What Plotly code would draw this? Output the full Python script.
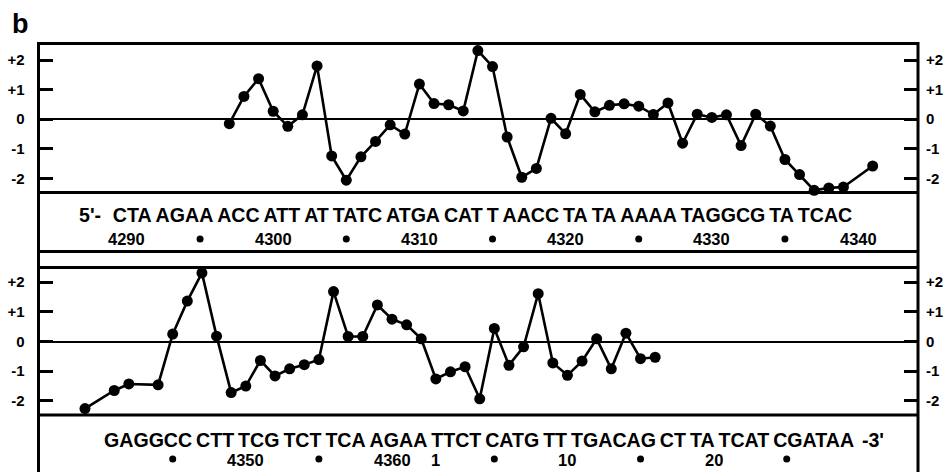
import plotly.graph_objects as go

# ---------------- data ----------------
top_pos = [4297, 4298, 4299, 4300, 4301, 4302, 4303, 4304, 4305, 4306,
           4307, 4308, 4309, 4310, 4311, 4312, 4313, 4314, 4315, 4316,
           4317, 4318, 4319, 4320, 4321, 4322, 4323, 4324, 4325, 4326,
           4327, 4328, 4329, 4330, 4331, 4332, 4333, 4334, 4335, 4336,
           4337, 4338, 4339, 4341]
top_val = [-0.15, 0.77, 1.37, 0.27, -0.24, 0.15, 1.80, -1.24, -2.06, -1.27,
           -0.75, -0.19, -0.50, 1.19, 0.53, 0.49, 0.28, 2.32, 1.78, -0.60,
           -1.96, -1.66, 0.03, -0.49, 0.84, 0.25, 0.47, 0.52, 0.44, 0.16,
           0.55, -0.81, 0.17, 0.06, 0.15, -0.89, 0.17, -0.23, -1.36, -1.87,
           -2.40, -2.32, -2.29, -1.58]

bot_pos = [4339, 4341, 4342, 4344, 4345, 4346, 4347, 4348, 4349, 4350,
           4351, 4352, 4353, 4354, 4355, 4356, 4357, 4358, 4359, 4360,
           4361, 4362, 4363, 4364, 4365, 4366, 4367, 4368, 4369, 4370,
           4371, 4372, 4373, 4374, 4375, 4376, 4377, 4378]
bot_val = [-2.26, -1.65, -1.43, -1.46, 0.25, 1.36, 2.31, 0.18, -1.72, -1.50,
           -0.64, -1.16, -0.92, -0.78, -0.61, 1.68, 0.17, 0.17, 1.23, 0.75,
           0.56, 0.09, -1.26, -1.02, -0.85, -1.93, 0.44, -0.80, -0.18, 1.61,
           -0.72, -1.14, -0.66, 0.09, -0.92, 0.28, -0.58, -0.53]

y_tickvals = [2, 1, 0, -1, -2]
y_ticktext = ["+2", "+1", "0", "-1", "-2"]

top_seq_groups = ["CTA", "AGAA", "ACC", "ATT", "AT", "TATC", "ATGA", "CAT", "T",
                  "AACC", "TA", "TA", "AAAA", "TAGGCG", "TA", "TCAC"]
bot_seq_groups = ["GAGGCC", "CTT", "TCG", "TCT", "TCA", "AGAA", "TTCT", "CATG",
                  "TT", "TGACAG", "CT", "TA", "TCAT", "CGATAA"]

top_num_pos = [4290, 4300, 4310, 4320, 4330, 4340]
top_num_text = ["4290", "4300", "4310", "4320", "4330", "4340"]
top_dot_pos = [4295, 4305, 4315, 4325, 4335]

bot_num_pos = [4350, 4360, 4363, 4372, 4382]
bot_num_text = ["4350", "4360", "1", "10", "20"]
bot_dot_pos = [4345, 4355, 4367, 4377, 4387]

# ---------------- layout helpers ----------------
W, H = 948, 472
def px(x):
    return x / W
def py(y):
    return 1 - y / H

FONT = "Liberation Sans, Arial, Helvetica, sans-serif"
XL, XR = 38.5, 918.0
THIN = "\u2009"

fig = go.Figure()

line_style = dict(color="black", width=2.6)
marker_style = dict(color="black", size=11)

fig.add_trace(go.Scatter(x=top_pos, y=top_val, xaxis="x", yaxis="y",
                         mode="lines+markers", line=line_style, marker=marker_style,
                         cliponaxis=False, showlegend=False))
fig.add_trace(go.Scatter(x=bot_pos, y=bot_val, xaxis="x2", yaxis="y2",
                         mode="lines+markers", line=line_style, marker=marker_style,
                         cliponaxis=False, showlegend=False))
# helper traces so the right-hand axes are drawn
fig.add_trace(go.Scatter(x=[None], y=[None], xaxis="x", yaxis="y3", showlegend=False))
fig.add_trace(go.Scatter(x=[None], y=[None], xaxis="x2", yaxis="y4", showlegend=False))

xdom = [px(XL), px(XR)]
top_dom = [py(192.5), py(43.5)]
bot_dom = [py(415), py(267.5)]
top_range = [-2.475, 2.559]
bot_range = [-2.475, 2.492]

hidden_x = dict(showticklabels=False, showgrid=False, zeroline=False,
                showline=False, ticks="", domain=xdom)

tickfont = dict(family=FONT, size=15, color="black", weight="bold")
left_y = dict(tickvals=y_tickvals, ticktext=y_ticktext, ticks="inside",
              ticklen=14, tickwidth=3, tickcolor="black", showgrid=False,
              zeroline=True, zerolinecolor="black", zerolinewidth=2.2,
              showline=False, tickfont=tickfont, ticklabelstandoff=13)
right_y = dict(tickvals=y_tickvals, ticktext=y_ticktext, ticks="inside",
               ticklen=14, tickwidth=3, tickcolor="black", showgrid=False,
               zeroline=False, showline=False, side="right",
               tickfont=tickfont, ticklabelstandoff=7)

fig.update_layout(
    width=W, height=H, autosize=False,
    margin=dict(l=0, r=0, t=0, b=0),
    paper_bgcolor="white", plot_bgcolor="white",
    xaxis=dict(range=[4283.95, 4344.1], anchor="y", **hidden_x),
    xaxis2=dict(range=[4335.82, 4395.98], anchor="y2", **hidden_x),
    yaxis=dict(domain=top_dom, range=top_range, anchor="x", **left_y),
    yaxis2=dict(domain=bot_dom, range=bot_range, anchor="x2", **left_y),
    yaxis3=dict(domain=top_dom, range=top_range, anchor="x", overlaying="y", **right_y),
    yaxis4=dict(domain=bot_dom, range=bot_range, anchor="x2", overlaying="y2", **right_y),
)

# ---------------- frame ----------------
shapes = []
frame_path = "M {l},{b} L {l},{t} L {r},{t} L {r},{b}".format(
    l=px(XL), r=px(XR), t=py(43.5), b=py(472))
shapes.append(dict(type="path", xref="paper", yref="paper", path=frame_path,
                   line=dict(color="black", width=3)))
for yy in [192.5, 251.5, 267.5, 415]:
    shapes.append(dict(type="line", xref="paper", yref="paper",
                       x0=px(XL), x1=px(XR), y0=py(yy), y1=py(yy),
                       line=dict(color="black", width=3)))

# numbering dots
for p in top_dot_pos:
    shapes.append(dict(type="circle", xref="x", yref="paper",
                       xsizemode="pixel", ysizemode="pixel",
                       xanchor=p, yanchor=py(239),
                       x0=-3.5, x1=3.5, y0=-3.5, y1=3.5,
                       fillcolor="black", line=dict(width=0)))
for p in bot_dot_pos:
    shapes.append(dict(type="circle", xref="x2", yref="paper",
                       xsizemode="pixel", ysizemode="pixel",
                       xanchor=p, yanchor=py(459),
                       x0=-3.5, x1=3.5, y0=-3.5, y1=3.5,
                       fillcolor="black", line=dict(width=0)))
fig.update_layout(shapes=shapes)

# ---------------- text ----------------
ann = []
ann.append(dict(text="b", xref="paper", yref="paper", x=px(10), y=py(24),
                xanchor="left", yanchor="middle", showarrow=False,
                font=dict(family=FONT, size=27, color="black", weight="bold")))
ann.append(dict(text="5'-" + THIN + THIN + THIN + THIN.join(top_seq_groups),
                xref="paper", yref="paper",
                x=px(77), y=py(215), xanchor="left", yanchor="middle",
                showarrow=False,
                font=dict(family=FONT, size=19.6, color="black", weight="bold")))
ann.append(dict(text=THIN.join(bot_seq_groups) + THIN + THIN + "-3'",
                xref="paper", yref="paper",
                x=px(102), y=py(440), xanchor="left", yanchor="middle",
                showarrow=False,
                font=dict(family=FONT, size=19.6, color="black", weight="bold")))
num_font = dict(family=FONT, size=16.5, color="black", weight="bold")
for p, t in zip(top_num_pos, top_num_text):
    ann.append(dict(text=t, xref="x", yref="paper", x=p, y=py(239),
                    xanchor="center", yanchor="middle", showarrow=False, font=num_font))
for p, t in zip(bot_num_pos, bot_num_text):
    ann.append(dict(text=t, xref="x2", yref="paper", x=p, y=py(460),
                    xanchor="center", yanchor="middle", showarrow=False, font=num_font))
fig.update_layout(annotations=ann)

fig.write_html("out.html")
